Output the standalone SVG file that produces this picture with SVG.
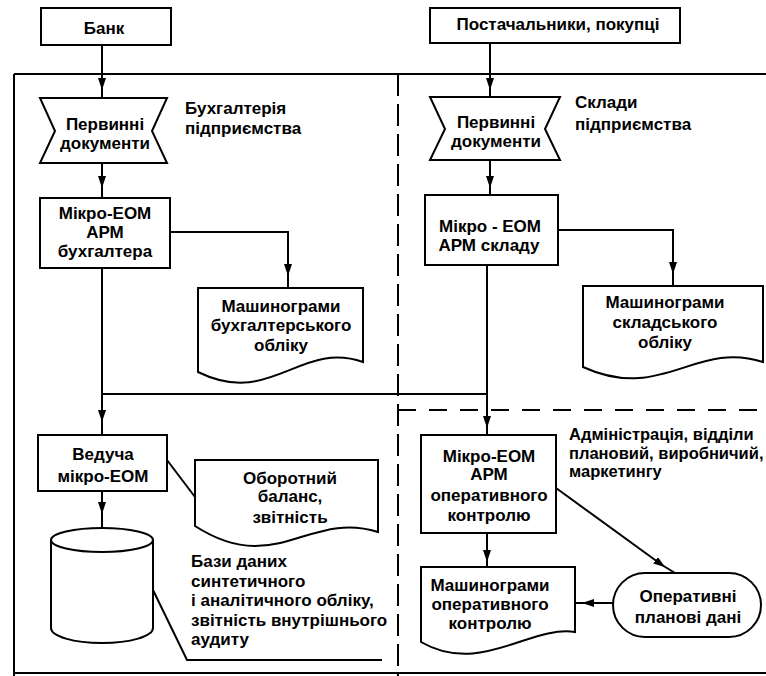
<svg xmlns="http://www.w3.org/2000/svg" width="766" height="676" viewBox="0 0 766 676">
  <style>
    .box { fill: #fff; stroke: #000; stroke-width: 2; }
    .ln { fill: none; stroke: #000; stroke-width: 2; }
    .ar { fill: none; stroke: #000; stroke-width: 2; marker-end: url(#ah); }
    .dv { fill: none; stroke: #000; stroke-width: 2; stroke-dasharray: 22 8; }
    .dh { fill: none; stroke: #000; stroke-width: 2; stroke-dasharray: 18 13; }
    text { font-family: "Liberation Sans", Arial, sans-serif; font-size: 17px; font-weight: bold; fill: #000; }
    .m { text-anchor: middle; }
    .s { font-size: 16.5px; }
  </style>
  <defs>
    <marker id="ah" viewBox="0 0 12 8" refX="8" refY="4" markerWidth="12" markerHeight="8" markerUnits="userSpaceOnUse" orient="auto">
      <path d="M0,0 L12,4 L0,8 Z" fill="#000"/>
    </marker>
  </defs>

  <rect width="766" height="676" fill="#fff"/>

  <!-- enterprise boundary and department partitions -->
  <g id="frame">
    <path class="ln" d="M14,74 H766 M14,74 V676 M14,673 H766"/>
    <path class="dv" d="M398,74 V676"/>
    <path class="dh" d="M398,410 H766"/>
  </g>

  <g id="connectors">
    <path class="ar" d="M102,45 V86"/><path class="ln" d="M102,86 V98"/>
    <path class="ar" d="M102,163 V184"/><path class="ln" d="M102,184 V198"/>
    <path class="ar" d="M170,232 H288 V272"/><path class="ln" d="M288,272 V288"/>
    <path class="ln" d="M102,268 V394 H487"/>
    <path class="ar" d="M102,394 V418"/><path class="ln" d="M102,418 V435"/>
    <path class="ar" d="M490,43 V86"/><path class="ln" d="M490,86 V97"/>
    <path class="ar" d="M490,160 V184"/><path class="ln" d="M490,184 V195"/>
    <path class="ar" d="M558,230 H673 V270"/><path class="ln" d="M673,270 V286"/>
    <path class="ln" d="M487,265 V394"/>
    <path class="ar" d="M487,394 V424"/><path class="ln" d="M487,424 V435"/>
    <path class="ln" d="M167,460 L195,497"/>
    <path class="ar" d="M102,491 V510"/><path class="ln" d="M102,510 V528"/>
    <path class="ln" d="M153,590 L187,660 H382"/>
    <path class="ar" d="M556,488 L662,565"/><path class="ln" d="M662,565 L675,573"/>
    <path class="ar" d="M487,533 V558"/><path class="ln" d="M487,558 V567"/>
    <path class="ar" d="M613,603 H586"/><path class="ln" d="M586,603 H575"/>
  </g>

  <g id="bank">
    <rect class="box" x="41" y="8" width="130" height="37"/>
    <text class="m" x="104" y="34">Банк</text>
  </g>

  <g id="suppliers">
    <rect class="box" x="430" y="8" width="250" height="35"/>
    <text class="m" x="558" y="30">Постачальники, покупці</text>
  </g>

  <g id="docs-accounting">
    <path class="box" d="M40,98 H167 L152,131 L167,163 H40 L55,131 Z"/>
    <text class="m" x="105" y="130">Первинні</text>
    <text class="m" x="105" y="149">документи</text>
  </g>

  <g id="label-accounting">
    <text x="185" y="114">Бухгалтерія</text>
    <text x="185" y="134">підприємства</text>
  </g>

  <g id="docs-warehouse">
    <path class="box" d="M430,97 H560 L545,129 L560,160 H430 L445,129 Z"/>
    <text class="m" x="496" y="128">Первинні</text>
    <text class="m" x="496" y="147">документи</text>
  </g>

  <g id="label-warehouse">
    <text x="575" y="108">Склади</text>
    <text x="575" y="130">підприємства</text>
  </g>

  <g id="pc-accountant">
    <rect class="box" x="40" y="198" width="130" height="70"/>
    <text class="m" x="105" y="219">Мікро-ЕОМ</text>
    <text class="m" x="105" y="238">АРМ</text>
    <text class="m" x="105" y="257">бухгалтера</text>
  </g>

  <g id="report-accounting">
    <path class="box" d="M198,288 H363 V362 C300,340 271,408 198,372 Z"/>
    <text class="m" x="281" y="312">Машинограми</text>
    <text class="m" x="281" y="331">бухгалтерського</text>
    <text class="m" x="281" y="351">обліку</text>
  </g>

  <g id="pc-warehouse">
    <rect class="box" x="425" y="195" width="133" height="70"/>
    <text class="m" x="490" y="232">Мікро - ЕОМ</text>
    <text class="m" x="489" y="251">АРМ складу</text>
  </g>

  <g id="report-warehouse">
    <path class="box" d="M583,286 H763 V362 C695,340 662,403 583,367 Z"/>
    <text class="m" x="665" y="308">Машинограми</text>
    <text class="m" x="665" y="328">складського</text>
    <text class="m" x="665" y="348">обліку</text>
  </g>

  <g id="pc-main">
    <rect class="box" x="38" y="435" width="129" height="56"/>
    <text class="m" x="103" y="460">Ведуча</text>
    <text class="m" x="103" y="482">мікро-ЕОМ</text>
  </g>

  <g id="report-balance">
    <path class="box" d="M195,460 H378 V532 C308,510 276,578 195,526 Z"/>
    <text class="m" x="290" y="484">Оборотний</text>
    <text class="m" x="290" y="502">баланс,</text>
    <text class="m" x="290" y="523">звітність</text>
  </g>

  <g id="database">
    <path class="box" d="M51,540 A51,12 0 0 1 153,540 V628 A51,15 0 0 1 51,628 Z"/>
    <path class="ln" d="M51,540 A51,12 0 0 0 153,540"/>
  </g>

  <g id="label-database">
    <text x="191" y="567">Бази даних</text>
    <text x="191" y="587">синтетичного</text>
    <text x="191" y="606">і аналітичного обліку,</text>
    <text x="191" y="626">звітність внутрішнього</text>
    <text x="191" y="645">аудиту</text>
  </g>

  <g id="pc-control">
    <rect class="box" x="421" y="435" width="135" height="98"/>
    <text class="m" x="489" y="462">Мікро-ЕОМ</text>
    <text class="m" x="489" y="480">АРМ</text>
    <text class="m" x="489" y="501">оперативного</text>
    <text class="m" x="489" y="521">контролю</text>
  </g>

  <g id="label-administration">
    <text class="s" x="569" y="440">Адміністрація, відділи</text>
    <text class="s" x="569" y="459">плановий, виробничий,</text>
    <text class="s" x="569" y="477">маркетингу</text>
  </g>

  <g id="report-control">
    <path class="box" d="M421,567 H575 V632 C530,625 480,676 421,642 Z"/>
    <text class="m" x="490" y="591">Машинограми</text>
    <text class="m" x="490" y="610">оперативного</text>
    <text class="m" x="490" y="629">контролю</text>
  </g>

  <g id="plan-data">
    <rect class="box" x="613" y="573" width="148" height="64" rx="32" ry="32"/>
    <text class="m" x="688" y="602">Оперативні</text>
    <text class="m" x="688" y="623">планові дані</text>
  </g>
</svg>
